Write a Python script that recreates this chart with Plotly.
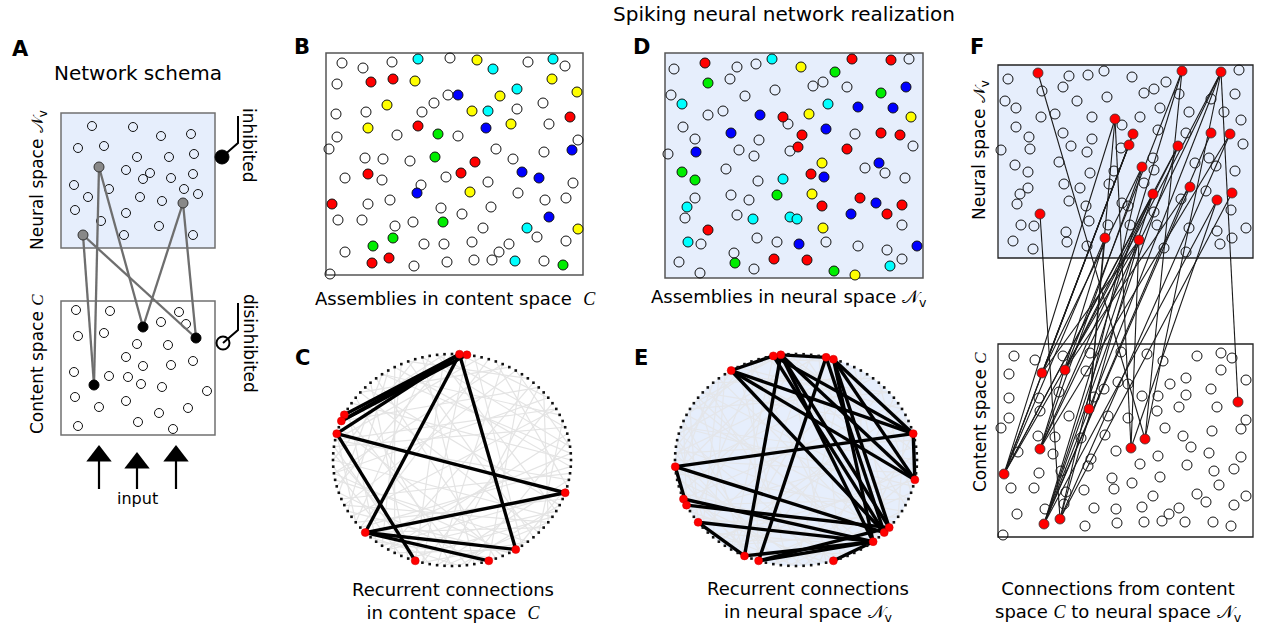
import math
import plotly.graph_objects as go

W, H = 1266, 627
FONT = "DejaVu Sans"
SC_C = '<span style="font-family:Liberation Serif"><i>C</i></span>'
SC_N = "𝒩<sub>v</sub>"

BLUE_BG = "rgb(230,238,252)"
KIND_COLOR = {"r": "#ff0000", "b": "#0000ff", "g": "#00ee00", "c": "#00ffff", "y": "#ffff00"}

# ---------------- Panel A: network schema ----------------
a_neural_open_x = [92, 133, 161, 191, 78, 104, 137, 169, 194, 126, 143, 150, 171, 193, 74, 109, 184, 88, 140, 162, 198, 75, 101, 126, 159, 124, 193]
a_neural_open_y = [126, 127, 136, 134, 148, 146, 157, 157, 154, 170, 179, 173, 178, 174, 185, 189, 189, 197, 197, 201, 194, 210, 221, 213, 226, 235, 235]
a_neural_act_x = [99, 183, 83]
a_neural_act_y = [167, 203, 235]
a_content_open_x = [76, 110, 179, 161, 186, 78, 104, 137, 168, 126, 143, 171, 193, 74, 109, 128, 141, 162, 207, 75, 126, 99, 159, 188, 78, 138, 173]
a_content_open_y = [310, 311, 312, 322, 324, 336, 333, 344, 345, 357, 366, 365, 361, 372, 376, 377, 384, 387, 391, 397, 401, 407, 413, 408, 426, 422, 429]
a_content_act_x = [143, 196, 94]
a_content_act_y = [327, 338, 385]
# (neural index, content index)
a_links = [(2, 2), (0, 2), (0, 0), (2, 1), (1, 0), (1, 1)]
input_x = [99, 137, 176]
input_tip_y = [445, 452, 445]
input_base_y = 489

# ---------------- Panel B: assemblies in content space ----------------
b_x = [342, 363, 392, 418, 450, 477, 493, 528, 553, 565, 337, 371, 393, 415, 552, 577, 458, 448, 500, 517,
       387, 434, 336, 366, 422, 472, 488, 517, 543, 570, 368, 418, 486, 511, 549, 337, 397, 438, 458, 578,
       329, 365, 383, 410, 435, 496, 475, 513, 544, 572, 368, 345, 382, 446, 461, 421, 417, 488, 522, 539,
       573, 470, 518, 332, 368, 390, 441, 462, 491, 545, 566, 338, 362, 395, 413, 443, 483, 549, 527, 578,
       393, 373, 345, 424, 444, 472, 509, 537, 566, 499, 372, 389, 414, 447, 474, 492, 515, 544, 563, 330]
b_y = [63, 68, 62, 59, 58, 60, 69, 62, 59, 66, 84, 82, 79, 81, 79, 92, 95, 95, 96, 89,
       105, 103, 114, 112, 112, 111, 111, 109, 103, 117, 128, 126, 128, 124, 124, 137, 135, 134, 136, 140,
       149, 158, 159, 161, 157, 149, 162, 159, 152, 150, 174, 178, 180, 177, 173, 185, 193, 182, 172, 178,
       183, 192, 193, 204, 204, 200, 208, 214, 207, 200, 198, 220, 220, 226, 222, 222, 228, 217, 228, 229,
       238, 246, 252, 244, 244, 242, 244, 237, 241, 252, 263, 258, 266, 262, 260, 260, 261, 261, 265, 274]
b_kind = ("wwwcwycwcw" "wrryyybwyc" "ywwwwycwwr" "yrbywwwgww" "wwwwgwrwwb"
          "rwwwrwbwbb" "wywrwwwwww" "wwwwwgwbcy" "ggwwwwwwww" "rrwwwwcwgw")

# ---------------- Panel D: assemblies in neural space ----------------
d_x = [674, 705, 737, 756, 772, 801, 852, 891, 909, 835, 708, 730, 775, 813, 823, 847, 881, 906, 671, 682,
       745, 828, 858, 893, 708, 723, 760, 783, 809, 911, 683, 788, 826, 695, 731, 759, 802, 855, 881, 900,
       668, 696, 739, 754, 790, 798, 847, 913, 822, 879, 865, 885, 682, 726, 811, 824, 905, 695, 758, 783,
       695, 731, 749, 777, 812, 860, 876, 902, 687, 685, 737, 753, 790, 797, 822, 851, 887, 902, 823, 708,
       688, 701, 757, 777, 799, 826, 858, 887, 917, 902, 890, 679, 734, 735, 754, 774, 807, 834, 855, 700]
d_y = [69, 63, 67, 64, 59, 67, 59, 60, 59, 72, 83, 79, 90, 86, 82, 87, 93, 87, 95, 104,
       96, 104, 107, 108, 115, 111, 115, 117, 114, 117, 127, 124, 129, 139, 133, 140, 135, 134, 133, 135,
       154, 152, 150, 156, 151, 147, 149, 146, 163, 163, 168, 173, 172, 169, 174, 177, 178, 180, 181, 179,
       198, 195, 200, 195, 194, 198, 203, 205, 207, 218, 215, 219, 217, 219, 206, 214, 214, 225, 228, 230,
       242, 244, 238, 242, 244, 242, 246, 250, 246, 259, 266, 262, 253, 263, 269, 259, 260, 271, 275, 273]
d_kind = ("wrwwcyrrwg" "gwwwwwgbwc" "wcbbwwbryy" "wwbwbwrwrr" "wbwwwrrwyb"
          "wwgwrbwgwc" "wwwgyrbrcw" "wcccrbrwyr" "cwwwbwwwbw" "cwwgwrrgyw")

# ---------------- Panel C / E: recurrent connections on a ring ----------------
n_ring = 100
c_red = [23, 24, 43, 44, 46, 62, 70, 80, 84, 95]
c_strong = [(24, 43), (23, 44), (24, 44), (24, 46), (46, 95), (46, 70), (24, 62), (24, 84), (62, 95), (62, 84), (62, 80)]
c_weak = [(0, 41), (1, 63), (2, 29), (3, 77), (5, 48), (6, 88), (7, 35), (8, 59), (9, 71), (10, 52), (11, 90), (12, 44),
          (13, 66), (14, 31), (15, 80), (16, 57), (17, 39), (18, 73), (19, 96), (20, 61), (21, 47), (22, 85), (25, 54),
          (26, 70), (27, 92), (28, 60), (29, 78), (30, 50), (31, 87), (32, 65), (33, 99), (34, 58), (36, 81), (37, 69),
          (38, 93), (40, 75), (42, 64), (45, 82), (47, 97), (49, 72), (50, 91), (51, 68), (53, 86), (55, 79), (56, 98),
          (58, 83), (60, 94), (62, 89), (63, 76), (65, 95), (67, 84), (69, 91), (71, 86), (73, 97), (74, 90), (76, 93),
          (1, 35), (4, 66), (8, 47), (12, 74), (18, 52), (23, 71), (26, 44), (33, 67), (39, 88), (43, 77), (46, 60),
          (52, 83), (57, 90), (61, 99), (64, 81), (2, 16), (10, 24), (84, 96), (35, 55), (48, 70), (66, 92), (5, 27)]

e_red = [4, 20, 21, 27, 28, 34, 51, 56, 57, 60, 68, 70, 80, 86, 88, 89, 97]
e_strong = [(27, 21), (28, 34), (34, 4), (34, 97), (34, 88), (27, 68), (27, 86), (28, 88), (27, 89), (28, 4), (27, 97),
            (21, 70), (20, 86), (20, 89), (21, 88), (20, 4), (20, 97), (4, 51), (4, 97), (51, 88), (51, 57), (56, 86),
            (57, 89), (60, 86), (60, 68), (68, 86), (70, 89), (70, 86), (80, 86)]
e_weak = [(0, 45), (1, 72), (2, 58), (3, 27), (4, 83), (5, 39), (6, 64), (7, 91), (8, 33), (9, 56), (10, 78), (11, 42),
          (12, 69), (13, 95), (14, 37), (15, 61), (16, 84), (17, 49), (18, 75), (19, 30), (20, 55), (21, 88), (22, 46),
          (23, 67), (24, 93), (25, 52), (26, 79), (27, 41), (28, 66), (29, 97), (30, 59), (31, 82), (32, 48), (33, 74),
          (34, 99), (35, 63), (36, 87), (37, 53), (38, 77), (39, 94), (40, 68), (41, 85), (42, 60), (43, 90), (44, 71),
          (45, 96), (46, 80), (47, 62), (48, 89), (49, 73), (50, 98), (51, 76), (52, 92), (53, 81), (54, 70), (55, 86),
          (57, 94), (58, 79), (60, 91), (62, 85), (63, 97), (65, 88), (66, 99), (68, 83), (70, 95), (72, 90), (74, 92),
          (76, 98), (1, 26), (3, 49), (5, 21), (8, 64), (11, 35), (14, 52), (17, 89), (19, 66), (22, 81), (24, 58),
          (28, 43), (31, 70), (34, 50), (36, 61), (40, 84), (44, 57), (47, 73), (52, 69), (56, 78), (59, 86), (61, 75),
          (64, 87)]

# ---------------- Panel F: feed-forward content -> neural ----------------
fn_open_x = [1008, 1042, 1069, 1063, 1088, 1104, 1132, 1166, 1154, 1144, 1179, 1239, 1211, 1235, 1005, 1016, 1077, 1107,
             1160, 1189, 1224, 1241, 1041, 1055, 1092, 1122, 1140, 1016, 1063, 1158, 1186, 1029, 1092, 1121, 1243, 1001,
             1030, 1071, 1087, 1059, 1015, 1028, 1090, 1114, 1154, 1153, 1195, 1209, 1216, 1235, 1064, 1080, 1109, 1144,
             1028, 1020, 1017, 1069, 1086, 1122, 1128, 1206, 1181, 1231, 1021, 1034, 1089, 1108, 1130, 1154, 1157, 1189,
             1217, 1246, 1013, 1033, 1066, 1067, 1087, 1164, 1186, 1220, 1232]
fn_open_y = [79, 91, 76, 87, 75, 71, 77, 82, 89, 93, 94, 70, 99, 94, 101, 108, 101, 97,
             108, 112, 112, 120, 117, 114, 117, 125, 117, 127, 133, 130, 133, 137, 139, 148, 144, 150,
             149, 146, 152, 162, 165, 172, 173, 171, 170, 158, 163, 158, 166, 171, 184, 188, 184, 183,
             188, 194, 204, 201, 206, 203, 206, 191, 199, 210, 225, 226, 221, 225, 225, 212, 225, 228,
             231, 228, 241, 249, 232, 242, 246, 248, 252, 244, 238]
fn_red_x = [1038, 1182, 1221, 1115, 1133, 1129, 1211, 1230, 1178, 1142, 1153, 1190, 1217, 1232, 1040, 1105, 1139]
fn_red_y = [73, 71, 72, 119, 134, 145, 133, 134, 146, 167, 194, 187, 200, 193, 214, 238, 240]

fc_open_x = [1014, 1035, 1063, 1090, 1121, 1147, 1163, 1197, 1221, 1232, 1009, 1086, 1221, 1246, 1118, 1128, 1170, 1186,
             1186, 1211, 1009, 1039, 1059, 1094, 1104, 1142, 1158, 1217, 1040, 1157, 1179, 1009, 1001, 1069, 1108, 1128,
             1246, 1241, 1165, 1212, 1038, 1055, 1081, 1105, 1183, 1191, 1018, 1053, 1116, 1091, 1088, 1158, 1209, 1241,
             1140, 1187, 1214, 1234, 1039, 1061, 1112, 1132, 1160, 1219, 1011, 1034, 1084, 1114, 1066, 1153, 1197, 1206,
             1246, 1064, 1045, 1094, 1116, 1142, 1169, 1179, 1234, 1017, 1085, 1117, 1144, 1162, 1185, 1213, 1231, 1003]
fc_open_y = [356, 360, 356, 353, 352, 354, 361, 356, 353, 358, 374, 371, 370, 380, 382, 384, 384, 378,
             395, 389, 398, 398, 392, 397, 389, 396, 396, 407, 411, 411, 407, 418, 428, 416, 416, 418,
             420, 429, 428, 431, 436, 437, 438, 435, 436, 447, 452, 454, 451, 459, 466, 456, 453, 457,
             464, 465, 471, 469, 473, 471, 478, 483, 477, 485, 488, 488, 490, 489, 492, 496, 494, 502,
             496, 504, 509, 508, 509, 507, 514, 508, 505, 514, 526, 523, 522, 521, 522, 522, 526, 535]
fc_red_x = [1042, 1065, 1238, 1089, 1040, 1131, 1145, 1004, 1044, 1060]
fc_red_y = [373, 370, 402, 409, 449, 448, 439, 474, 524, 519]
# (content red index, neural red index)
f_links = [(7, 3), (7, 5), (7, 8), (7, 10), (7, 15), (7, 4), (7, 16),
           (8, 1), (8, 8), (8, 11), (8, 12), (8, 6), (8, 10), (8, 2),
           (9, 14), (9, 7), (9, 13), (9, 16), (9, 9),
           (0, 4), (0, 5), (0, 16), (0, 9),
           (1, 1), (1, 2), (1, 11), (1, 8),
           (4, 15), (4, 9), (4, 10), (4, 7), (4, 2),
           (3, 15), (3, 3),
           (5, 3), (5, 16), (5, 12),
           (6, 0), (6, 1), (6, 2),
           (2, 2)]

# ---------------- layout geometry ----------------
A_NEURAL = (61, 113, 215, 248)
A_CONTENT = (61, 301, 215, 435)
B_BOX = (326, 53, 583, 275)
D_BOX = (665, 53, 923, 278)
F_NEURAL = (998, 65, 1253, 258)
F_CONTENT = (998, 344, 1253, 537)
C_RING = (452, 460, 119, 106)
E_RING = (796, 460, 121, 106)

fig = go.Figure()
shapes = []
annotations = []


def rect(box, fill, line_color, width=1.5):
    x0, y0, x1, y1 = box
    shapes.append(dict(type="rect", xref="x", yref="y", x0=x0, y0=y0, x1=x1, y1=y1,
                       fillcolor=fill, line=dict(color=line_color, width=width), layer="below"))


def segments(pairs, xa, ya, xb, yb):
    xs, ys = [], []
    for i, j in pairs:
        xs += [xa[i], xb[j], None]
        ys += [ya[i], yb[j], None]
    return xs, ys


def add_lines(xs, ys, color, width):
    fig.add_trace(go.Scatter(x=xs, y=ys, mode="lines", line=dict(color=color, width=width),
                             hoverinfo="skip", showlegend=False))


def add_open(xs, ys, size=10, lw=1.0):
    fig.add_trace(go.Scatter(x=xs, y=ys, mode="markers",
                             marker=dict(symbol="circle-open", size=size, color="#111111", line=dict(width=lw)),
                             hoverinfo="skip", showlegend=False))


def add_filled(xs, ys, color, size=10, edge="#111111", lw=1.0, symbol="circle"):
    fig.add_trace(go.Scatter(x=xs, y=ys, mode="markers",
                             marker=dict(symbol=symbol, size=size, color=color, line=dict(color=edge, width=lw)),
                             hoverinfo="skip", showlegend=False))


def add_assemblies(xs, ys, kinds):
    ox = [x for x, k in zip(xs, kinds) if k == "w"]
    oy = [y for y, k in zip(ys, kinds) if k == "w"]
    add_open(ox, oy)
    for k, col in KIND_COLOR.items():
        fx = [x for x, kk in zip(xs, kinds) if kk == k]
        fy = [y for y, kk in zip(ys, kinds) if kk == k]
        add_filled(fx, fy, col)


def ring_positions(ring):
    cx, cy, rx, ry = ring
    px, py = [], []
    for i in range(n_ring):
        t = 2 * math.pi * i / n_ring
        px.append(cx + rx * math.cos(t))
        py.append(cy - ry * math.sin(t))
    return px, py


def add_ring(ring, weak, strong, red, weak_color, fill=None):
    cx, cy, rx, ry = ring
    if fill:
        shapes.append(dict(type="circle", xref="x", yref="y", x0=cx - rx, x1=cx + rx, y0=cy - ry, y1=cy + ry,
                           fillcolor=fill, line=dict(width=0), layer="below"))
    px, py = ring_positions(ring)
    wx, wy = segments(weak, px, py, px, py)
    add_lines(wx, wy, weak_color, 1.2)
    sx, sy = segments(strong, px, py, px, py)
    add_lines(sx, sy, "#000000", 3.4)
    fig.add_trace(go.Scatter(x=px, y=py, mode="markers", marker=dict(size=2.6, color="#111111", symbol="square"),
                             hoverinfo="skip", showlegend=False))
    add_filled([px[i] for i in red], [py[i] for i in red], "#ff0000", size=8, edge="#cc0000", lw=0.5)


# Panel A
rect(A_NEURAL, BLUE_BG, "#707070")
rect(A_CONTENT, "white", "#707070")
add_open(a_neural_open_x, a_neural_open_y, size=9)
add_open(a_content_open_x, a_content_open_y, size=9)
lx, ly = segments(a_links, a_neural_act_x, a_neural_act_y, a_content_act_x, a_content_act_y)
add_lines(lx, ly, "#6e6e6e", 2.3)
add_filled(a_neural_act_x, a_neural_act_y, "#888888", size=10, edge="#333333", lw=1)
add_filled(a_content_act_x, a_content_act_y, "#000000", size=10, edge="#000000", lw=1)
# inhibited / disinhibited markers with leader lines
shapes.append(dict(type="path", xref="x", yref="y", path="M 222 157 L 238 143 L 238 116",
                   line=dict(color="black", width=2)))
shapes.append(dict(type="path", xref="x", yref="y", path="M 223 343 L 238 330 L 238 303",
                   line=dict(color="black", width=2)))
add_filled([222], [157], "#000000", size=14, edge="#000000", lw=1)
add_filled([223], [343], "white", size=13, edge="black", lw=2)
# input arrows: shaft plus triangular head
shaft_x, shaft_y = [], []
for xi, ty in zip(input_x, input_tip_y):
    shaft_x += [xi, xi, None]
    shaft_y += [input_base_y, ty + 12, None]
add_lines(shaft_x, shaft_y, "#000000", 2.2)
add_filled(input_x, [ty + 11 for ty in input_tip_y], "#000000", size=22, edge="#000000", lw=0,
           symbol="triangle-up")

# Panel B and D
rect(B_BOX, "white", "#555555")
add_assemblies(b_x, b_y, b_kind)
rect(D_BOX, BLUE_BG, "#555555")
add_assemblies(d_x, d_y, d_kind)

# Panel C and E
add_ring(C_RING, c_weak, c_strong, c_red, "#e4e4e4")
add_ring(E_RING, e_weak, e_strong, e_red, "#e4e6ea", fill=BLUE_BG)

# Panel F
rect(F_NEURAL, BLUE_BG, "#222222", 1.3)
rect(F_CONTENT, "white", "#222222", 1.3)
add_open(fn_open_x, fn_open_y)
add_open(fc_open_x, fc_open_y)
fx, fy = segments(f_links, fc_red_x, fc_red_y, fn_red_x, fn_red_y)
add_lines(fx, fy, "#1a1a1a", 1.1)
add_filled(fn_red_x, fn_red_y, "#ff0000", size=10, edge="#333333", lw=0.8)
add_filled(fc_red_x, fc_red_y, "#ff0000", size=10, edge="#333333", lw=0.8)


def label(x, y, text, size=16, angle=0, bold=False):
    t = f"<b>{text}</b>" if bold else text
    annotations.append(dict(x=x, y=y, xref="x", yref="y", text=t, showarrow=False, textangle=angle,
                            font=dict(family=FONT, size=size, color="black"),
                            xanchor="center", yanchor="middle"))


label(784, 14, "Spiking neural network realization", 20)
for lt, (lxp, lyp) in {"A": (20, 49), "B": (302, 47), "C": (302, 358), "D": (641, 47),
                       "E": (641, 358), "F": (977, 47)}.items():
    label(lxp, lyp, lt, 21, bold=True)
label(138, 73, "Network schema", 20)
label(38, 180, f"Neural space {SC_N}", 17, angle=-90)
label(37, 364, f"Content space {SC_C}", 17, angle=-90)
label(249, 145, "inhibited", 17, angle=90)
label(250, 343, "disinhibited", 17, angle=90)
label(137, 498, "input", 16)
label(455, 298, f"Assemblies in content space  {SC_C}", 18)
label(789, 298, f"Assemblies in neural space {SC_N}", 18)
label(453, 601, f"Recurrent connections<br>in content space  {SC_C}", 18)
label(808, 601, f"Recurrent connections<br>in neural space {SC_N}", 18)
label(1118, 601, f"Connections from content<br>space {SC_C} to neural space {SC_N}", 18)
label(980, 150, f"Neural space {SC_N}", 17, angle=-90)
label(980, 422, f"Content space {SC_C}", 17, angle=-90)

fig.update_layout(
    width=W, height=H, autosize=False,
    margin=dict(l=0, r=0, t=0, b=0),
    paper_bgcolor="white", plot_bgcolor="white",
    xaxis=dict(range=[0, W], visible=False, domain=[0, 1], fixedrange=True),
    yaxis=dict(range=[H, 0], visible=False, domain=[0, 1], fixedrange=True),
    shapes=shapes, annotations=annotations, showlegend=False,
)
fig.write_html("out.html")
